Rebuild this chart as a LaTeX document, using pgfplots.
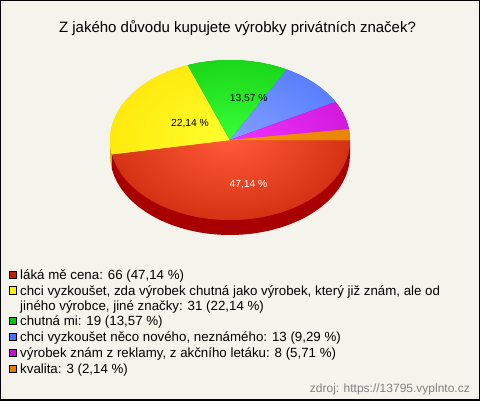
\documentclass[border=0pt]{standalone}
\usepackage{fontspec}
\setmainfont{Liberation Sans}
\usepackage{pgfplots}
\pgfplotsset{compat=1.18}
\definecolor{bg}{RGB}{245,244,236}
\definecolor{redA}{RGB}{255,90,58}
\definecolor{redB}{RGB}{192,32,0}
\definecolor{redD}{RGB}{168,0,0}
\definecolor{yelA}{RGB}{255,255,45}
\definecolor{yelB}{RGB}{255,224,0}
\definecolor{yelD}{RGB}{200,180,0}
\definecolor{greA}{RGB}{55,255,55}
\definecolor{greB}{RGB}{12,196,12}
\definecolor{bluA}{RGB}{130,160,255}
\definecolor{bluB}{RGB}{72,112,255}
\definecolor{magA}{RGB}{240,50,255}
\definecolor{magB}{RGB}{196,16,208}
\definecolor{oraA}{RGB}{250,145,16}
\definecolor{oraB}{RGB}{224,128,0}
% the inner \shade inherits path picture, so guard against recursion
\tikzset{slice/.style 2 args={draw=none,mark=none,fill=#2,
  path picture={\begingroup\ifdefined\inslice\else\def\inslice{}%
    \shade[inner color=#1,outer color=#2] (axis cs:230,140) ellipse [x radius=175pt,y radius=117pt];\fi\endgroup}}}
\newcommand{\legtext}[2]{\node[anchor=base west,inner sep=0pt,font=\fontsize{13.3}{15}\selectfont] at (axis cs:20,#1) {#2};}
\begin{document}
\begin{tikzpicture}
\useasboundingbox (0,0) rectangle (480pt,400pt);
\begin{axis}[
    scale only axis,
    width=480pt, height=400pt,
    xmin=0, xmax=480, ymin=0, ymax=400,
    y dir=reverse,
    xtick=\empty, ytick=\empty,
    axis line style={black,line width=2pt},
    axis on top,
    axis background/.style={fill=bg},
]
% side wall
\addplot[draw=none,fill=redD,mark=none] coordinates {
 (350,140) (350,155) (349.54,161.97) (348.18,168.89) (345.91,175.71) (342.76,182.36) (338.76,188.81)
 (333.92,195) (328.30,200.89) (321.93,206.42) (314.85,211.57) (307.13,216.28) (298.83,220.53)
 (290,224.28) (280.71,227.50) (271.04,230.18) (261.06,232.27) (250.84,233.78) (240.46,234.70)
 (230,235) (219.54,234.70) (209.16,233.78) (198.94,232.27) (188.96,230.18) (179.29,227.50)
 (170,224.28) (161.17,220.53) (152.87,216.28) (145.15,211.57) (138.07,206.42) (131.70,200.89)
 (126.08,195) (121.24,188.81) (117.24,182.36) (114.09,175.71) (111.93,169.30) (111.93,154.30)
};
\addplot[draw=none,fill=yelD,mark=none] coordinates {
 (111.93,154.30) (111.93,169.30) (110.46,161.97) (110,155) (110,140)
};
% 66 (47,14 %)
\addplot[slice={redA}{redB}] coordinates {
 (230,140) (350,140) (349.54,146.97) (348.18,153.89) (345.91,160.71) (342.76,167.36) (338.76,173.81)
 (333.92,180) (328.30,185.89) (321.93,191.42) (314.85,196.57) (307.13,201.28) (298.83,205.53)
 (290,209.28) (280.71,212.50) (271.04,215.18) (261.06,217.27) (250.84,218.78) (240.46,219.70)
 (230,220) (219.54,219.70) (209.16,218.78) (198.94,217.27) (188.96,215.18) (179.29,212.50)
 (170,209.28) (161.17,205.53) (152.87,201.28) (145.15,196.57) (138.07,191.42) (131.70,185.89)
 (126.08,180) (121.24,173.81) (117.24,167.36) (114.09,160.71) (111.93,154.30)
};
% 31 (22,14 %)
\addplot[slice={yelA}{yelB}] coordinates {
 (230,140) (111.93,154.30) (110.46,146.97) (110,140) (110.46,133.03) (111.82,126.11) (114.09,119.29)
 (117.24,112.64) (121.24,106.19) (126.08,100) (131.70,94.11) (138.07,88.58) (145.15,83.43)
 (152.87,78.72) (161.17,74.47) (170,70.72) (179.29,67.50) (187.78,65.12)
};
% 19 (13,57 %)
\addplot[slice={greA}{greB}] coordinates {
 (230,140) (187.78,65.12) (198.94,62.73) (209.16,61.22) (219.54,60.30) (230,60) (240.46,60.30)
 (250.84,61.22) (261.06,62.73) (271.04,64.82) (280.71,67.50) (286.89,69.56)
};
% 13 (9,29 %)
\addplot[slice={bluA}{bluB}] coordinates {
 (230,140) (286.89,69.56) (290,70.72) (298.83,74.47) (307.13,78.72) (314.85,83.43) (321.93,88.58)
 (328.30,94.11) (333.92,100) (335.66,102.07)
};
% 8 (5,71 %)
\addplot[slice={magA}{magB}] coordinates {
 (230,140) (335.66,102.07) (338.76,106.19) (342.76,112.64) (345.91,119.29) (348.18,126.11) (348.92,129.28)
};
% 3 (2,14 %)
\addplot[slice={oraA}{oraB}] coordinates {
 (230,140) (348.92,129.28) (349.54,133.03) (350,140)
};
% legend markers
\addplot[only marks,mark=square*,mark size=3.6pt,mark options={fill=redB,draw=black,line width=.8pt}] coordinates {(13,274.5)};
\addplot[only marks,mark=square*,mark size=3.6pt,mark options={fill=yellow,draw=black,line width=.8pt}] coordinates {(13,290.3)};
\addplot[only marks,mark=square*,mark size=3.6pt,mark options={fill=greB,draw=black,line width=.8pt}] coordinates {(13,320.5)};
\addplot[only marks,mark=square*,mark size=3.6pt,mark options={fill=bluB,draw=black,line width=.8pt}] coordinates {(13,336.5)};
\addplot[only marks,mark=square*,mark size=3.6pt,mark options={fill=magB,draw=black,line width=.8pt}] coordinates {(13,352.5)};
\addplot[only marks,mark=square*,mark size=3.6pt,mark options={fill=oraB,draw=black,line width=.8pt}] coordinates {(13,368.5)};
\node[anchor=base,inner sep=0pt,font=\fontsize{15}{17}\selectfont] at (axis cs:237.5,32) {Z jakého důvodu kupujete výrobky privátních značek?};
\node[inner sep=0pt,font=\fontsize{10.3}{12}\selectfont,text=white] at (axis cs:248.5,185) {47,14 \%};
\node[inner sep=0pt,font=\fontsize{10.3}{12}\selectfont] at (axis cs:190,124) {22,14 \%};
\node[inner sep=0pt,font=\fontsize{10.3}{12}\selectfont] at (axis cs:248.7,99) {13,57 \%};
\legtext{279}{láká mě cena: 66 (47,14 \%)}
\legtext{295}{chci vyzkoušet, zda výrobek chutná jako výrobek, který již znám, ale od}
\legtext{310}{jiného výrobce, jiné značky: 31 (22,14 \%)}
\legtext{325}{chutná mi: 19 (13,57 \%)}
\legtext{341}{chci vyzkoušet něco nového, neznámého: 13 (9,29 \%)}
\legtext{357}{výrobek znám z reklamy, z akčního letáku: 8 (5,71 \%)}
\legtext{373}{kvalita: 3 (2,14 \%)}
\node[anchor=base east,inner sep=0pt,font=\fontsize{12}{14}\selectfont,text=gray] at (axis cs:470,392) {zdroj: https://13795.vyplnto.cz};
\end{axis}
\end{tikzpicture}
\end{document}
